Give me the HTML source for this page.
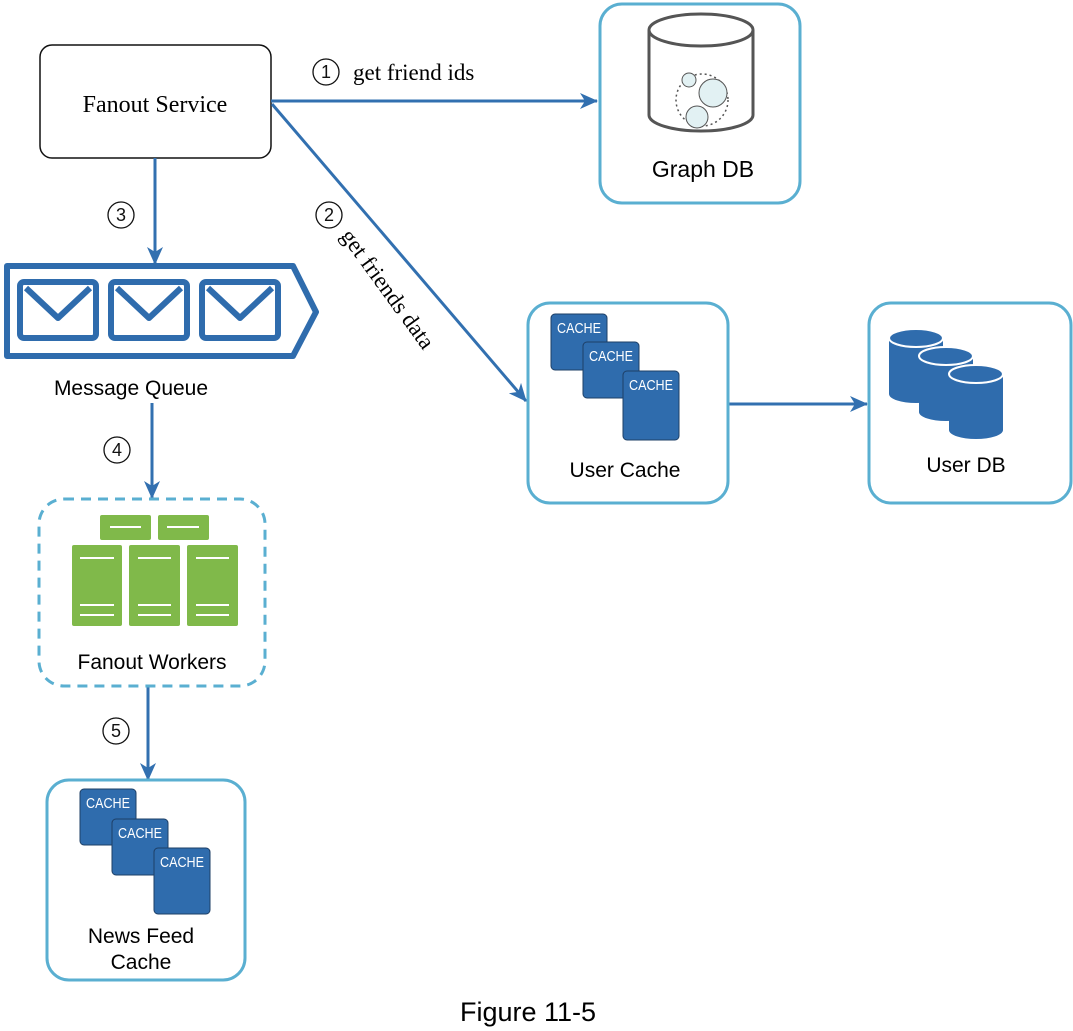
<!DOCTYPE html>
<html><head><meta charset="utf-8"><style>html,body{margin:0;padding:0;background:#fff}svg{display:block}</style></head>
<body>
<svg width="1073" height="1031" viewBox="0 0 1073 1031" xmlns="http://www.w3.org/2000/svg" font-family="Liberation Sans, sans-serif">
<defs>
<marker id="ah" markerWidth="18" markerHeight="16" refX="17" refY="8" orient="auto" markerUnits="userSpaceOnUse">
<path d="M0,0 L18,8 L0,16 L5,8 Z" fill="#3270b0"/></marker>
<g id="cache"><rect x="0" y="0" width="56" height="56" rx="4" fill="#2f6cad" stroke="#1e3f66" stroke-width="1"/><text x="6" y="19" font-size="15" fill="#fff" textLength="44" lengthAdjust="spacingAndGlyphs">CACHE</text></g>
<g id="cyl"><path d="M0,10 v56 a27,9 0 0 0 54,0 v-56 z" fill="#2f6cad"/><ellipse cx="27" cy="10" rx="27" ry="9" fill="#2f6cad" stroke="#fff" stroke-width="2"/></g>
</defs>

<rect x="40" y="45" width="231" height="113" rx="12" fill="#fff" stroke="#111" stroke-width="1.5"/>
<text x="155" y="112" font-size="24" text-anchor="middle" font-family="Liberation Serif, serif">Fanout Service</text>

<g stroke="#3270b0" stroke-width="3" fill="none" marker-end="url(#ah)">
<line x1="271" y1="101" x2="597" y2="101"/>
<line x1="272" y1="104" x2="526" y2="401"/>
<line x1="155" y1="158" x2="155" y2="264"/>
<line x1="152" y1="403" x2="152" y2="498"/>
<line x1="148" y1="686" x2="148" y2="780"/>
<line x1="729" y1="404" x2="867" y2="404"/>
</g>

<g fill="#fff" stroke="#111" stroke-width="1.3">
<circle cx="326" cy="72" r="13"/><circle cx="329" cy="215" r="13"/><circle cx="121" cy="215" r="13"/><circle cx="117" cy="450" r="13"/><circle cx="116" cy="731" r="13"/>
</g>
<g font-size="18" text-anchor="middle" fill="#111">
<text x="326" y="78">1</text><text x="329" y="221">2</text><text x="121" y="221">3</text><text x="117" y="456">4</text><text x="116" y="737">5</text>
</g>
<text x="353" y="80" font-size="23" font-family="Liberation Serif, serif">get friend ids</text>
<text x="0" y="0" font-size="23" font-family="Liberation Serif, serif" transform="translate(340,236) rotate(54)">get friends data</text>

<rect x="600" y="4" width="200" height="199" rx="22" fill="#fff" stroke="#5aafd1" stroke-width="3"/>
<path d="M649,30 v85 a52,16 0 0 0 104,0 v-85" fill="#fff" stroke="#555" stroke-width="3"/>
<ellipse cx="701" cy="30" rx="52" ry="16" fill="#fff" stroke="#555" stroke-width="3"/>
<circle cx="702" cy="100" r="26" fill="none" stroke="#555" stroke-width="1.5" stroke-dasharray="2,3"/>
<circle cx="689" cy="80" r="7" fill="#e2f1f3" stroke="#555" stroke-width="1"/>
<circle cx="713" cy="93" r="14" fill="#e2f1f3" stroke="#555" stroke-width="1"/>
<circle cx="697" cy="117" r="11" fill="#e2f1f3" stroke="#555" stroke-width="1"/>
<text x="703" y="177" font-size="23" text-anchor="middle">Graph DB</text>

<path d="M7,266 H293 L316,312 L293,356 H7 Z" fill="#fff" stroke="#2f6cad" stroke-width="6" stroke-linejoin="round"/>
<g fill="#fff" stroke="#2f6cad" stroke-width="6" stroke-linejoin="round">
<rect x="20" y="282" width="76" height="56" rx="4"/><path d="M26,288 L58,318 L90,288"/>
<rect x="111" y="282" width="76" height="56" rx="4"/><path d="M117,288 L149,318 L181,288"/>
<rect x="202" y="282" width="76" height="56" rx="4"/><path d="M208,288 L240,318 L272,288"/>
</g>
<text x="131" y="395" font-size="21" text-anchor="middle">Message Queue</text>

<rect x="39" y="499" width="226" height="187" rx="25" fill="none" stroke="#5aafd1" stroke-width="3" stroke-dasharray="10,7"/>
<g fill="#80b94a">
<rect x="100" y="515" width="51" height="25" rx="2"/><rect x="158" y="515" width="51" height="25" rx="2"/>
<rect x="72" y="545" width="50" height="81" rx="2"/><rect x="129" y="545" width="51" height="81" rx="2"/><rect x="187" y="545" width="51" height="81" rx="2"/>
</g>
<g stroke="#fff" stroke-width="2">
<line x1="110" y1="527" x2="141" y2="527"/><line x1="167" y1="527" x2="199" y2="527"/>
<line x1="80" y1="558" x2="114" y2="558"/><line x1="138" y1="558" x2="171" y2="558"/><line x1="196" y1="558" x2="229" y2="558"/>
<line x1="80" y1="605" x2="114" y2="605"/><line x1="138" y1="605" x2="171" y2="605"/><line x1="196" y1="605" x2="229" y2="605"/>
<line x1="80" y1="615" x2="114" y2="615"/><line x1="138" y1="615" x2="171" y2="615"/><line x1="196" y1="615" x2="229" y2="615"/>
</g>
<text x="152" y="669" font-size="21" text-anchor="middle">Fanout Workers</text>

<rect x="47" y="780" width="198" height="200" rx="22" fill="#fff" stroke="#5aafd1" stroke-width="3"/>
<use href="#cache" x="80" y="789"/><use href="#cache" x="112" y="819"/>
<rect x="154" y="848" width="56" height="66" rx="4" fill="#2f6cad" stroke="#1e3f66"/><text x="160" y="867" font-size="15" fill="#fff" textLength="44" lengthAdjust="spacingAndGlyphs">CACHE</text>
<text x="141" y="943" font-size="21" text-anchor="middle">News Feed</text>
<text x="141" y="969" font-size="21" text-anchor="middle">Cache</text>

<rect x="528" y="303" width="200" height="200" rx="22" fill="#fff" stroke="#5aafd1" stroke-width="3"/>
<use href="#cache" x="551" y="314"/><use href="#cache" x="583" y="342"/>
<rect x="623" y="371" width="56" height="69" rx="4" fill="#2f6cad" stroke="#1e3f66"/><text x="629" y="390" font-size="15" fill="#fff" textLength="44" lengthAdjust="spacingAndGlyphs">CACHE</text>
<text x="625" y="477" font-size="21" text-anchor="middle">User Cache</text>

<rect x="869" y="303" width="202" height="200" rx="22" fill="#fff" stroke="#5aafd1" stroke-width="3"/>
<use href="#cyl" x="889" y="328"/><use href="#cyl" x="919" y="346"/><use href="#cyl" x="949" y="364"/>
<text x="966" y="472" font-size="21" text-anchor="middle">User DB</text>

<text x="528" y="1021" font-size="27" text-anchor="middle">Figure 11-5</text>
</svg>
</body></html>
